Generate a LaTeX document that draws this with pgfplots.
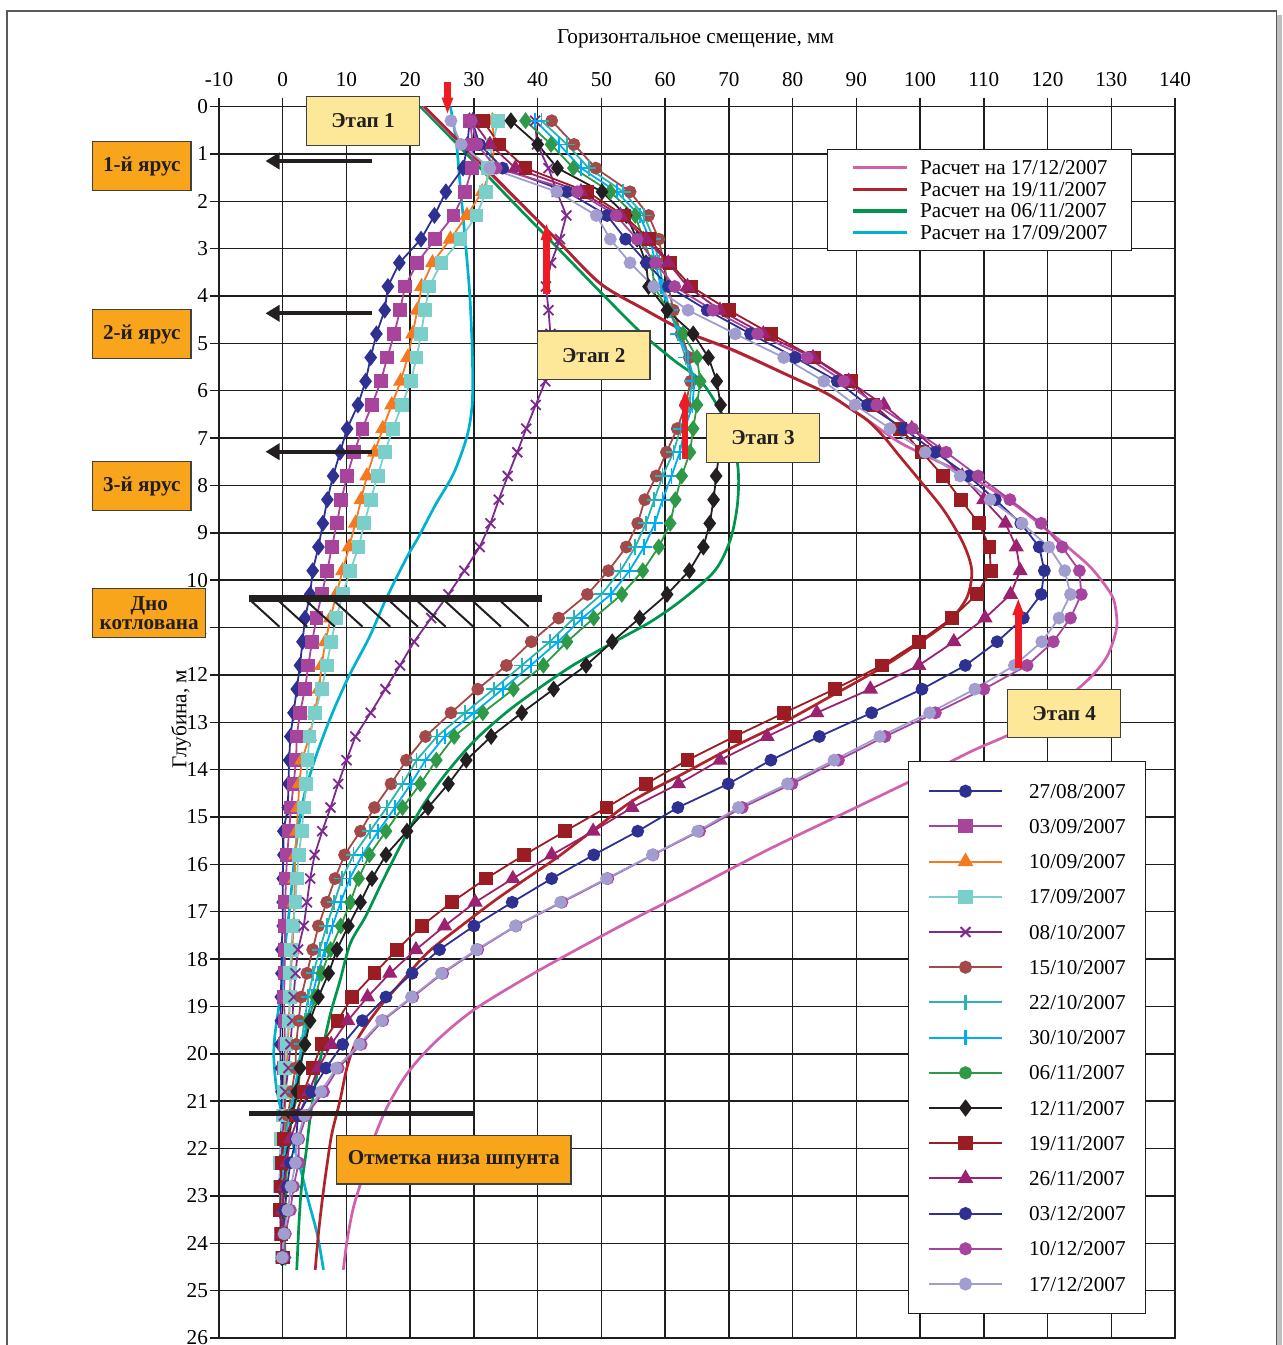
\documentclass[border=0pt]{standalone}
\usepackage{fontspec}
\setmainfont{Liberation Serif}
\usepackage{pgfplots}
\usepackage{pgfplotstable}
\pgfplotsset{compat=1.18}
\usetikzlibrary{arrows.meta}

% measured series
\definecolor{cNavy}{HTML}{2E3192}
\definecolor{cPlum}{HTML}{A8449C}
\definecolor{cOrange}{HTML}{F47920}
\definecolor{cAqua}{HTML}{7ACFCB}
\definecolor{cViolet}{HTML}{7D2A8F}
\definecolor{cRust}{HTML}{A3494A}
\definecolor{cTeal}{HTML}{2AB3B1}
\definecolor{cSky}{HTML}{00AEEF}
\definecolor{cGreen}{HTML}{2E9A47}
\definecolor{cBlack}{HTML}{231F20}
\definecolor{cMaroon}{HTML}{9B1C22}
\definecolor{cBerry}{HTML}{9A2270}
\definecolor{cMagenta}{HTML}{A6449E}
\definecolor{cLavender}{HTML}{A29DCF}
% computed curves
\definecolor{kPink}{HTML}{D160AE}
\definecolor{kRed}{HTML}{B0232A}
\definecolor{kGreen}{HTML}{00954C}
\definecolor{kCyan}{HTML}{00B2CE}
% annotations
\definecolor{stageFill}{HTML}{FDE89A}
\definecolor{tagFill}{HTML}{F8A51B}
\definecolor{arrowRed}{HTML}{ED1C24}
\definecolor{gridGray}{HTML}{1E1E1E}

\newcommand{\chartfont}{\fontsize{10.6}{12.7}\selectfont}

% inclinometer readings: depth d (m) and horizontal displacement (mm)
\pgfplotstableread{
d    a2708 a0309 a1009 a1709 a0810
0.3  29.3  29.4  32.9  33.8  39.6
0.8  29.0  29.8  33.2  32.9  39.9
1.3  28.3  29.7  32.8  32.2  41.7
1.8  25.6  28.6  31.3  31.9  43.0
2.3  23.8  26.8  28.9  30.4  44.5
2.8  21.7  23.9  26.3  27.9  43.5
3.3  18.3  21.1  23.5  24.9  42.1
3.8  16.5  19.2  21.8  23.0  41.3
4.3  16.0  18.4  21.1  22.3  41.7
4.8  14.7  17.5  20.4  21.7  42.0
5.3  13.8  16.4  19.6  21.0  41.7
5.8  13.0  15.4  18.5  20.1  41.2
6.3  11.8  14.0  17.1  18.7  39.7
6.8  10.1  12.5  15.7  17.3  38.2
7.3   9.0  11.2  14.4  16.0  36.8
7.8   7.9  10.1  13.2  14.9  35.3
8.3   7.0   9.2  12.3  13.8  33.9
8.8   6.3   8.5  11.4  12.8  32.6
9.3   5.6   7.7  10.4  11.9  30.9
9.8   4.7   7.0   9.4  10.6  28.5
10.3  4.3   6.1   8.4   9.4  26.0
10.8  3.5   5.3   7.5   8.4  23.3
11.3  3.1   4.6   6.7   7.6  20.6
11.8  2.7   4.0   6.1   6.9  18.4
12.3  2.2   3.5   5.7   6.1  16.1
12.8  1.7   2.7   5.0   5.1  13.8
13.3  1.2   2.2   4.2   4.2  11.4
13.8  1.0   2.1   3.0   3.9  10.0
14.3  0.9   1.7   2.6   3.7   8.7
14.8  0.8   1.3   2.4   3.3   7.5
15.3  0.1   1.0   2.2   3.0   6.2
15.8  0.1   0.7   2.0   2.5   5.0
16.3  0.0   0.5   1.9   2.2   4.3
16.8  0.0   0.4   1.8   2.0   3.8
17.3  0.0   0.4   1.7   1.6   3.3
17.8 -0.2   0.3   1.5   1.3   2.4
18.3 -0.2   0.3   1.3   1.2   2.0
18.8 -0.3   0.2   1.1   1.2   1.7
19.3 -0.3   0.3   1.0   0.9   1.5
19.8 -0.4   0.3   0.8   0.6   1.2
20.3 -0.3   0.2   0.6   0.4   0.9
20.8 -0.2   0.2   0.5   0.2   0.4
21.3 -0.1   0.0   0.3   0.0   0.2
21.8 -0.3  -0.2   0.1  -0.3   0.0
22.3 -0.4  -0.3   0.0  -0.4  -0.2
22.8 -0.5  -0.4  -0.1  -0.5  -0.4
23.3 -0.4  -0.3  -0.1  -0.3  -0.3
23.8 -0.3  -0.3   0.0  -0.2  -0.2
24.3 -0.2  -0.2   0.0  -0.1  -0.1
}\tabEarly

\pgfplotstableread{
d    b1510 b2210 b3010 b0611 b1211
0.3  42.2  40.6  39.6  38.1  35.8
0.8  45.7  44.6  43.4  42.1  40.0
1.3  49.1  48.0  46.8  45.6  43.1
1.8  54.5  53.4  52.4  51.4  50.1
2.3  57.4  56.7  56.0  55.3  53.9
2.8  59.0  58.2  57.6  56.6  55.6
3.3  59.8  59.0  58.5  57.9  57.0
3.8  60.5  59.7  59.3  58.3  57.4
4.3  61.3  60.8  60.6  60.4  60.3
4.8  62.5  62.0  62.2  62.8  64.4
5.3  63.8  63.2  63.6  65.0  66.8
5.8  64.0  64.2  64.6  65.5  68.1
6.3  63.2  63.8  64.3  65.0  68.7
6.8  61.9  62.4  63.1  64.4  68.8
7.3  60.2  61.3  62.3  63.9  68.5
7.8  58.6  59.6  61.0  62.6  68.0
8.3  56.8  58.3  59.6  61.6  67.6
8.8  55.7  57.0  58.4  60.8  67.0
9.3  53.9  55.3  56.7  59.0  66.0
9.8  51.1  53.0  54.4  56.5  63.8
10.3 47.8  50.0  51.5  53.2  60.3
10.8 43.3  45.7  47.0  48.8  56.0
11.3 39.0  41.9  43.2  44.6  51.7
11.8 35.1  37.5  38.9  40.9  47.6
12.3 30.6  33.1  34.5  36.2  42.5
12.8 26.4  28.6  30.0  31.4  37.5
13.3 22.4  24.2  25.4  26.9  32.7
13.8 19.4  21.0  22.4  24.1  28.8
14.3 17.0  18.8  20.1  21.6  26.0
14.8 14.4  16.3  17.6  18.8  22.8
15.3 12.2  13.7  15.0  16.2  19.5
15.8  9.7  11.1  12.5  13.6  16.2
16.3  8.2   9.3  10.5  11.9  14.0
16.8  6.9   8.1   9.1  10.6  12.2
17.3  5.6   6.9   7.8   9.1  10.3
17.8  4.7   5.8   6.6   7.5   8.5
18.3  3.8   4.8   5.5   6.1   7.2
18.8  2.9   4.0   4.6   5.1   5.6
19.3  2.5   3.4   3.8   4.0   4.3
19.8  2.1   2.9   3.1   3.4   3.5
20.3  2.0   2.4   2.6   2.7   2.7
20.8  1.4   1.8   2.0   2.5   2.2
21.3  0.8   1.0   1.3   1.5   1.5
21.8  0.3   0.4   0.7   1.0   0.9
22.3  0.0   0.0   0.3   0.7   0.5
22.8 -0.2  -0.2   0.1   0.5   0.2
23.3 -0.2  -0.2   0.0   0.4   0.0
23.8  0.0  -0.1   0.0   0.4   0.0
24.3  0.0   0.0   0.0   0.4   0.0
}\tabMiddle

\pgfplotstableread{
d    c1911 c2611 c0312 c1012 c1712
0.3  31.4  29.8  29.7  29.6  26.4
0.8  34.0  32.5  30.9  30.5  28.0
1.3  38.1  36.5  34.5  33.5  32.5
1.8  47.8  46.8  44.6  46.2  43.0
2.3  53.5  53.0  50.9  52.3  49.2
2.8  57.5  57.0  53.8  55.6  51.4
3.3  60.7  60.5  57.1  58.5  54.5
3.8  64.1  63.5  60.5  61.5  58.2
4.3  70.0  68.6  66.6  67.5  63.6
4.8  76.6  75.4  73.4  74.5  71.0
5.3  83.3  83.2  80.4  82.3  78.6
5.8  89.2  88.8  87.0  88.0  84.9
6.3  92.7  94.3  91.7  93.2  89.8
6.8  96.9  98.7  97.4  98.8  95.3
7.3 100.3 103.0 102.4 104.1 100.8
7.8 103.6 106.6 107.6 109.1 106.3
8.3 106.4 110.0 111.8 114.1 111.0
8.8 109.2 113.4 115.8 119.0 116.0
9.3 110.9 115.1 118.7 122.3 120.2
9.8 111.1 115.7 119.5 125.0 122.7
10.3 108.9 114.2 119.0 125.3 123.6
10.8 105.0 110.2 116.2 123.6 121.8
11.3  99.8 105.3 112.1 120.9 119.1
11.8  94.0  99.8 107.1 116.8 114.8
12.3  86.6  92.2 100.3 110.0 108.6
12.8  78.7  83.8  92.4 102.4 101.5
13.3  70.9  76.0  84.2  94.5  93.7
13.8  63.5  68.6  76.6  87.2  86.5
14.3  57.0  62.1  69.9  79.9  79.2
14.8  50.8  54.8  62.0  72.1  71.5
15.3  44.3  48.7  55.7  65.4  65.1
15.8  37.9  42.2  48.8  58.1  58.0
16.3  31.9  36.1  42.2  51.0  50.8
16.8  26.5  30.2  36.0  43.8  43.6
17.3  21.8  25.4  30.0  36.6  36.5
17.8  17.9  20.9  24.6  30.6  30.4
18.3  14.4  16.8  20.3  25.1  24.9
18.8  10.9  13.3  16.2  20.4  20.2
19.3   8.6  10.2  12.5  15.7  15.5
19.8   6.1   7.6   9.4  12.3  12.0
20.3   4.7   5.6   6.8   8.7   8.4
20.8   3.3   4.1   4.5   6.4   6.0
21.3   2.0   2.5   2.4   3.7   3.4
21.8   0.2   1.2   2.1   2.5   2.3
22.3  -0.2   0.6   1.2   2.5   2.0
22.8  -0.3   0.2   0.7   1.7   1.3
23.3  -0.4   0.0   0.3   1.2   0.8
23.8  -0.2   0.0   0.3   0.4   0.2
24.3   0.0   0.0   0.2   0.1  -0.1
}\tabLate

\pgfplotsset{
  frame/.style={
    at={(axo)}, anchor=north west,
    width=478pt, height=615.75pt, scale only axis,
    xmin=-10, xmax=140, ymin=0, ymax=26, y dir=reverse,
  },
  meas/.style={line width=0.9pt, mark size=2.75pt, mark options={solid}},
  kline/.style={line width=1.35pt, no markers},
}

\begin{document}
\begin{tikzpicture}[x=0.5pt,y=-0.5pt]
\useasboundingbox (0,0) rectangle (1282,1345);
% page frame
\draw[black!25, line width=2.5pt] (1279.5,15) -- (1279.5,1400);
\draw[black!65, line width=0.8pt] (7,11) rectangle (1276.5,1400);
\coordinate (axo) at (219,106.5);

% grid, ticks and the computed curves
\begin{axis}[frame,
  xtick={-10,0,...,140}, ytick={0,1,...,26},
  xtick pos=upper, xticklabel pos=upper, ytick pos=left,
  tick align=outside, major tick length=4.5pt,
  tick style={line width=0.75pt, color=gridGray},
  grid=major, major grid style={line width=0.75pt, color=gridGray},
  axis line style={line width=0.75pt, color=gridGray},
  ticklabel style={font=\chartfont, text=black},
  xticklabel style={yshift=2pt},
  yticklabel style={xshift=2.5pt},
  /pgf/number format/assume math mode=true,
  legend style={at={(0.955,0.9655)}, anchor=north east,
    draw=gridGray, fill=white,
    inner xsep=12pt, inner ysep=3.75pt, font=\chartfont,
    nodes={inner xsep=0pt, inner ysep=0pt, text height=8.9pt, text depth=1.9pt},
    column sep=6pt, cells={anchor=west}},
  legend image code/.code={\draw[#1, line width=1.6pt] (0pt,0pt) -- (27pt,0pt);},
]
\addplot[kline, kCyan, smooth, forget plot] coordinates {
 (26.3,0) (27.2,0.71) (27.8,1.6) (28.4,2.47) (29.3,3.88) (29.7,5.0) (29.8,5.7)
 (29.7,6.34) (28.9,6.97) (26.8,7.75) (24.0,8.4) (21.3,9.09) (19.5,9.51)
 (16.2,10.4) (13.6,11.2) (10.3,12.05) (7.5,12.9) (5.0,13.8) (3.2,14.65)
 (2.0,15.7) (1.1,16.9) (0.3,17.8) (-0.1,18.52) (-1.2,19.57) (-1.4,20.07)
 (-1.0,20.7) (-0.1,21.26) (1.4,21.83) (2.7,22.39) (4.0,23.09) (5.4,23.8) (6.4,24.56)};
\addplot[kline, kGreen, smooth, forget plot] coordinates {
 (21.6,0) (28.7,0.98) (35.7,1.96) (42.8,2.94) (49.8,3.91) (56.1,4.76) (61.3,5.35)
 (65.5,5.78) (68.6,6.41) (70.7,7.04) (71.5,7.75) (71.3,8.45) (70.2,9.16) (67.8,9.8)
 (62.8,10.4) (57.7,10.88) (51.5,11.34) (45.5,11.8) (40.0,12.3) (35.0,12.8)
 (30.0,13.4) (25.5,14.1) (21.8,14.8) (18.5,15.6) (15.5,16.4) (13.0,17.1)
 (10.6,17.67) (9.0,18.45) (7.5,19.15) (6.2,19.93) (5.1,20.63) (4.3,21.34)
 (3.7,22.04) (3.0,22.74) (2.6,23.45) (2.2,24.56)};
\addplot[kline, kPink, smooth, forget plot] coordinates {
 (22.0,0) (29.0,0.94) (36.0,1.88) (43.0,2.81) (49.7,3.73) (56.5,4.27) (63.3,4.76)
 (70.6,5.15) (78.5,5.63) (85.3,6.06) (91.3,6.58) (96.5,7.07) (101.4,7.4) (106.0,7.7)
 (110.0,7.98) (115.3,8.45) (119.9,8.94) (123.6,9.35) (126.7,9.72) (129.0,10.1)
 (130.4,10.42) (130.9,10.9) (130.4,11.25) (129.3,11.62) (127.4,11.96) (124.9,12.28)
 (119.4,12.89) (113.7,13.28) (108.4,13.59) (102.1,14.01) (89.0,14.86) (76.0,15.7)
 (62.9,16.62) (57.7,16.97) (49.8,17.53) (39.4,18.3) (29.9,19.08) (23.7,19.78)
 (19.5,20.42) (16.4,21.12) (14.2,21.83) (12.7,22.53) (11.1,23.24) (10.1,23.94) (9.5,24.56)};
\addplot[kline, kRed, smooth, forget plot] coordinates {
 (22.2,0) (29.1,0.93) (36.0,1.86) (42.9,2.8) (49.8,3.73) (56.6,4.27) (63.4,4.76)
 (70.7,5.14) (78.6,5.63) (85.4,6.06) (89.3,6.4) (91.7,6.62) (94.3,6.97) (96.9,7.4)
 (99.5,7.82) (103.7,8.52) (106.8,9.23) (108.1,9.79) (107.4,10.35) (104.7,10.84)
 (99.5,11.36) (94.3,11.82) (89.1,12.22) (86.4,12.42) (78.6,13.0) (70.7,13.52)
 (62.9,14.08) (55.0,14.65) (48.5,15.3) (43.0,15.86) (38.0,16.32) (33.3,16.76)
 (27.8,17.32) (22.6,17.88) (18.4,18.52) (14.8,19.08) (11.6,19.72) (10.1,20.28)
 (9.0,20.98) (7.7,21.69) (6.9,22.39) (6.2,23.09) (5.6,23.8) (5.1,24.56)};
\addlegendimage{kline, kPink}\addlegendentry{Расчет на 17/12/2007}
\addlegendimage{kline, kRed}\addlegendentry{Расчет на 19/11/2007}
\addlegendimage{kline, kGreen}\addlegendentry{Расчет на 06/11/2007}
\addlegendimage{kline, kCyan}\addlegendentry{Расчет на 17/09/2007}
\end{axis}

% measured profiles
\begin{axis}[frame, hide axis,
  legend style={at={(0.9697,0.0195)}, anchor=south east,
    draw=gridGray, fill=white,
    inner xsep=10pt, inner ysep=6pt, font=\chartfont,
    nodes={inner xsep=0pt, inner ysep=0pt, text height=12.3pt, text depth=5.3pt},
    column sep=13pt, row sep=0pt, cells={anchor=west}},
  legend image code/.code={\draw[mark repeat=2,mark phase=2,#1, line width=1.05pt]
    plot coordinates {(0pt,0pt) (18.25pt,0pt) (36.5pt,0pt)};},
]
\addplot[meas, cNavy, mark=diamond*, mark size=3.5pt,
  legend image post style={mark=*, mark size=2.75pt}] table[x=a2708, y=d] {\tabEarly};
\addlegendentry{27/08/2007}
\addplot[meas, cPlum, mark=square*, mark size=3pt] table[x=a0309, y=d] {\tabEarly};
\addlegendentry{03/09/2007}
\addplot[meas, cOrange, mark=triangle*, mark size=3.5pt] table[x=a1009, y=d] {\tabEarly};
\addlegendentry{10/09/2007}
\addplot[meas, cAqua, mark=square*, mark size=3pt] table[x=a1709, y=d] {\tabEarly};
\addlegendentry{17/09/2007}
\addplot[meas, cViolet, mark=x, mark size=3.5pt] table[x=a0810, y=d] {\tabEarly};
\addlegendentry{08/10/2007}
\addplot[meas, cRust, mark=*] table[x=b1510, y=d] {\tabMiddle};
\addlegendentry{15/10/2007}
\addplot[meas, cTeal, mark=+, mark size=3.8pt] table[x=b2210, y=d] {\tabMiddle};
\addlegendentry{22/10/2007}
\addplot[meas, cSky, mark=+, mark size=3.8pt] table[x=b3010, y=d] {\tabMiddle};
\addlegendentry{30/10/2007}
\addplot[meas, cGreen, mark=diamond*, mark size=3.5pt,
  legend image post style={mark=*, mark size=2.75pt}] table[x=b0611, y=d] {\tabMiddle};
\addlegendentry{06/11/2007}
\addplot[meas, cBlack, mark=diamond*, mark size=3.5pt] table[x=b1211, y=d] {\tabMiddle};
\addlegendentry{12/11/2007}
\addplot[meas, cMaroon, mark=square*, mark size=3pt] table[x=c1911, y=d] {\tabLate};
\addlegendentry{19/11/2007}
\addplot[meas, cBerry, mark=triangle*, mark size=3.5pt] table[x=c2611, y=d] {\tabLate};
\addlegendentry{26/11/2007}
\addplot[meas, cNavy, mark=*] table[x=c0312, y=d] {\tabLate};
\addlegendentry{03/12/2007}
\addplot[meas, cMagenta, mark=*] table[x=c1012, y=d] {\tabLate};
\addlegendentry{10/12/2007}
\addplot[meas, cLavender, mark=*] table[x=c1712, y=d] {\tabLate};
\addlegendentry{17/12/2007}
\end{axis}

% axis captions
\node[font=\chartfont] at (695.5,39) {Горизонтальное смещение, мм};
\node[font=\chartfont, rotate=90] at (181,719) {Глубина, м};

% excavation bottom with hatching
\draw[cBlack, line width=3.3pt] (249.3,598.3) -- (541.7,598.3);
\foreach \i in {0,...,9}
  \draw[cBlack, line width=1pt] (251.7+27.7*\i,601.5) -- (279.4+27.7*\i,626.7);
% toe of the sheet piling
\draw[cBlack, line width=2.8pt] (249.3,1113.3) -- (472.7,1113.3);

% anchor tiers
\foreach \yy in {161,313.3,451.7}
  \draw[cBlack, line width=2pt, -{Triangle[length=7pt,width=8pt]}] (371.7,\yy) -- (265.5,\yy);

% red stage arrows
\begin{scope}[arrowRed, line width=3.4pt, -{Triangle[length=8.5pt,width=5.2pt]}]
  \draw (447.5,82) -- (447.5,114.5);
  \draw (546.5,294) -- (546.5,223);
  \draw (685,459.3) -- (685,389.5);
  \draw (1018.3,668) -- (1018.3,598);
\end{scope}

% labelled boxes
\begin{scope}[draw=black!75, line width=0.6pt]
  \filldraw[fill=stageFill] (306.7,96.7) rectangle (419.3,145.3);
  \filldraw[fill=stageFill] (537.7,331) rectangle (650,379.3);
  \filldraw[fill=stageFill] (706.7,413.3) rectangle (819.3,462.3);
  \filldraw[fill=stageFill] (1007.7,689.3) rectangle (1120.7,737.7);
  \filldraw[fill=tagFill] (92.7,141.7) rectangle (191,190.7);
  \filldraw[fill=tagFill] (92.7,309.5) rectangle (191,358.5);
  \filldraw[fill=tagFill] (92.7,461.5) rectangle (191,510.5);
  \filldraw[fill=tagFill] (92.7,588.3) rectangle (205.7,637.3);
  \filldraw[fill=tagFill] (336.7,1135.3) rectangle (571,1184);
\end{scope}
\begin{scope}[font=\chartfont\bfseries, text=cBlack]
  \node at (363,121) {Этап 1};
  \node at (593.8,355.2) {Этап 2};
  \node at (763,437.8) {Этап 3};
  \node at (1064.2,713.5) {Этап 4};
  \node at (141.8,166.2) {1-й ярус};
  \node at (141.8,334) {2-й ярус};
  \node at (141.8,486) {3-й ярус};
  \node[align=center, font=\fontsize{10.6}{9.5}\selectfont\bfseries] at (149.2,612.8) {Дно\\котлована};
  \node at (453.8,1159.6) {Отметка низа шпунта};
\end{scope}
\end{tikzpicture}
\end{document}
